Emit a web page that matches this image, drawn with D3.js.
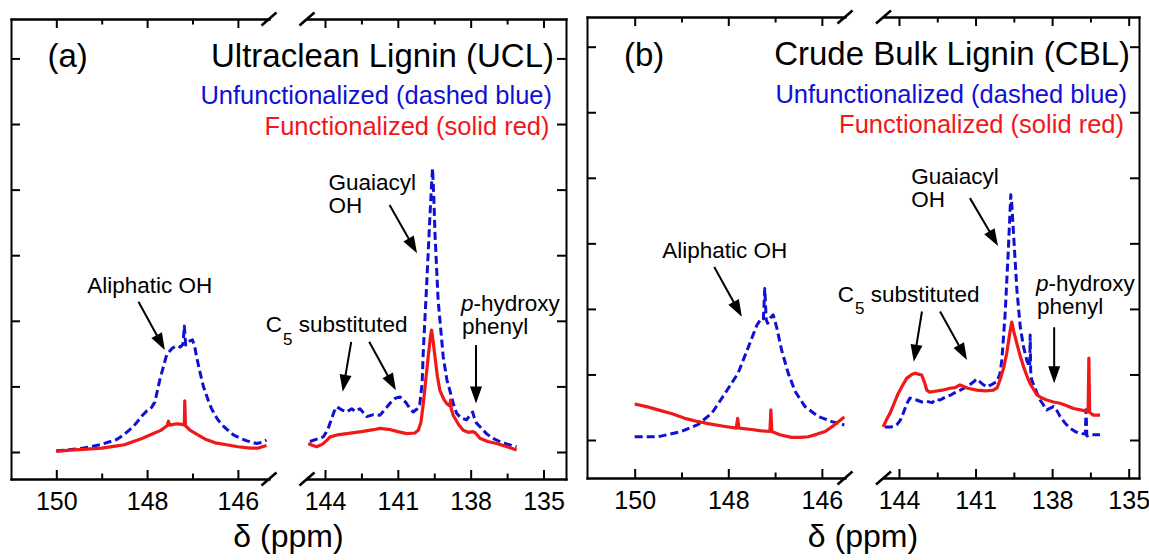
<!DOCTYPE html>
<html>
<head>
<meta charset="utf-8">
<script src="https://cdn.jsdelivr.net/npm/d3@7"></script>
<style>
  html, body { margin: 0; padding: 0; background: #fff; }
  svg { display: block; }
</style>
</head>
<body>
<svg id="chart" width="1149" height="560"></svg>
<script>
// ---- 31P NMR spectra, [chemical shift (ppm), intensity (a.u.)] ----
// Ultraclean lignin, unfunctionalized (dashed blue)
const uclUnfLeft = [[150.0,0.02],[149.77,0.03],[149.4,0.06],[149.04,0.11],[148.67,0.19],[148.5,0.27],[148.3,0.39],[148.1,0.56],[148.0,0.63],[147.9,0.68],[147.83,0.76],[147.72,1.1],[147.57,1.48],[147.45,1.58],[147.35,1.62],[147.27,1.60],[147.21,1.64],[147.18,1.92],[147.15,1.63],[147.1,1.68],[147.0,1.71],[146.95,1.60],[146.91,1.45],[146.83,1.2],[146.76,1.0],[146.65,0.78],[146.58,0.66],[146.45,0.50],[146.36,0.42],[146.2,0.32],[146.1,0.26],[145.95,0.21],[145.8,0.17],[145.59,0.13],[145.45,0.15],[145.37,0.18]];
const uclUnfRight = [[144.62,0.16],[144.3,0.2],[144.07,0.23],[143.9,0.33],[143.79,0.44],[143.62,0.62],[143.52,0.69],[143.3,0.64],[143.1,0.61],[142.9,0.66],[142.75,0.62],[142.56,0.66],[142.42,0.6],[142.28,0.54],[142.0,0.57],[141.74,0.56],[141.5,0.66],[141.33,0.74],[141.1,0.82],[140.91,0.84],[140.75,0.79],[140.64,0.74],[140.5,0.66],[140.37,0.61],[140.2,0.66],[140.1,0.72],[140.0,1.05],[139.95,1.55],[139.81,2.57],[139.68,3.58],[139.6,4.15],[139.57,4.32],[139.52,3.9],[139.47,3.33],[139.34,2.31],[139.13,1.45],[138.98,1.1],[138.86,0.94],[138.7,0.72],[138.58,0.59],[138.4,0.52],[138.17,0.49],[138.05,0.55],[137.92,0.61],[137.85,0.52],[137.76,0.44],[137.55,0.36],[137.35,0.28],[137.1,0.21],[136.8,0.16],[136.5,0.12],[136.11,0.08]];
// Ultraclean lignin, functionalized (solid red)
const uclFunLeft = [[150.0,0.01],[149.7,0.03],[149.4,0.04],[149.0,0.06],[148.7,0.09],[148.5,0.11],[148.3,0.16],[148.1,0.21],[147.9,0.27],[147.7,0.33],[147.56,0.40],[147.53,0.47],[147.5,0.41],[147.35,0.43],[147.22,0.42],[147.18,0.41],[147.17,0.78],[147.155,0.40],[147.05,0.33],[146.9,0.27],[146.7,0.19],[146.5,0.14],[146.25,0.11],[146.0,0.08],[145.73,0.06],[145.55,0.06],[145.37,0.10]];
const uclFunRight = [[144.69,0.13],[144.5,0.10],[144.34,0.08],[144.1,0.12],[143.95,0.17],[143.79,0.23],[143.5,0.26],[143.1,0.28],[142.5,0.31],[142.0,0.34],[141.74,0.36],[141.3,0.34],[141.0,0.31],[140.64,0.28],[140.3,0.29],[140.16,0.33],[140.05,0.45],[139.95,0.74],[139.85,1.1],[139.75,1.45],[139.66,1.75],[139.61,1.86],[139.55,1.7],[139.47,1.45],[139.37,1.15],[139.27,0.94],[139.1,0.80],[138.99,0.74],[138.86,0.70],[138.83,0.79],[138.8,0.66],[138.72,0.56],[138.5,0.42],[138.31,0.33],[138.1,0.30],[137.9,0.31],[137.8,0.29],[137.62,0.21],[137.3,0.16],[136.93,0.13],[136.5,0.08],[136.11,0.03]];
// Crude bulk lignin, unfunctionalized (dashed blue)
const cblUnfLeft = [[150.0,0.05],[149.5,0.05],[149.0,0.13],[148.64,0.24],[148.35,0.41],[148.07,0.71],[147.79,1.02],[147.57,1.42],[147.39,1.75],[147.29,1.86],[147.25,1.85],[147.22,2.31],[147.19,1.84],[147.16,1.78],[147.1,1.86],[147.04,1.91],[146.97,1.73],[146.86,1.37],[146.72,1.02],[146.57,0.74],[146.36,0.51],[146.08,0.36],[145.79,0.28],[145.52,0.23]];
const cblUnfRight = [[144.55,0.2],[144.3,0.2],[144.09,0.23],[143.95,0.3],[143.83,0.41],[143.7,0.55],[143.57,0.64],[143.45,0.62],[143.31,0.61],[143.1,0.58],[142.91,0.59],[142.7,0.57],[142.55,0.62],[142.39,0.61],[142.2,0.65],[142.0,0.68],[141.87,0.71],[141.6,0.76],[141.35,0.81],[141.1,0.88],[140.95,0.93],[140.75,0.86],[140.56,0.81],[140.35,0.85],[140.17,0.89],[140.05,1.0],[139.97,1.22],[139.84,1.93],[139.71,2.95],[139.62,3.74],[139.58,3.6],[139.52,3.2],[139.38,2.29],[139.25,1.73],[139.12,1.42],[138.98,1.2],[138.88,1.12],[138.86,1.6],[138.84,1.05],[138.8,0.92],[138.6,0.72],[138.47,0.61],[138.21,0.46],[137.95,0.51],[137.8,0.44],[137.69,0.36],[137.5,0.26],[137.29,0.18],[137.1,0.13],[136.9,0.1],[136.7,0.09],[136.67,0.46],[136.64,0.06],[136.5,0.08],[136.38,0.08],[136.12,0.08]];
// Crude bulk lignin, functionalized (solid red)
const cblFunLeft = [[150.0,0.55],[149.75,0.51],[149.5,0.46],[149.2,0.4],[148.93,0.33],[148.7,0.29],[148.43,0.25],[148.1,0.21],[147.83,0.18],[147.8,0.33],[147.77,0.18],[147.5,0.16],[147.29,0.14],[147.11,0.13],[147.09,0.46],[147.07,0.13],[146.9,0.08],[146.65,0.04],[146.45,0.04],[146.29,0.05],[146.1,0.09],[145.93,0.13],[145.75,0.22],[145.52,0.35]];
const cblFunRight = [[144.62,0.2],[144.5,0.3],[144.35,0.41],[144.2,0.55],[144.03,0.71],[143.85,0.84],[143.7,0.94],[143.5,1.0],[143.37,1.02],[143.2,1.0],[143.11,0.99],[143.0,0.88],[142.91,0.76],[142.8,0.73],[142.65,0.74],[142.3,0.76],[142.0,0.79],[141.8,0.8],[141.61,0.84],[141.3,0.79],[140.95,0.76],[140.6,0.75],[140.3,0.76],[140.15,0.8],[140.04,0.92],[139.9,1.1],[139.78,1.32],[139.65,1.65],[139.58,1.8],[139.5,1.65],[139.38,1.47],[139.25,1.28],[139.12,1.12],[138.99,0.98],[138.86,0.86],[138.6,0.69],[138.4,0.64],[138.21,0.61],[137.95,0.58],[137.69,0.56],[137.4,0.52],[137.16,0.48],[136.9,0.46],[136.64,0.44],[136.59,0.44],[136.56,1.25],[136.53,0.42],[136.38,0.38],[136.12,0.38]];

// ---- axis ticks ----
const leftMajorTicks = [150, 148, 146];
const leftMinorTicks = [149, 147];
const rightMajorTicks = [144, 141, 138, 135];
const rightMinorTicks = [142.5, 139.5, 136.5];
const intensityTicks = [0, 1, 2, 3, 4, 5, 6];

// ---- text ----
const panelTags = ["(a)", "(b)"];
const panelTitles = ["Ultraclean Lignin (UCL)", "Crude Bulk Lignin (CBL)"];
const legendUnf = "Unfunctionalized (dashed blue)";
const legendFun = "Functionalized (solid red)";
const xTitle = "\u03b4 (ppm)";

const FONT = "'Liberation Sans', Arial, Helvetica, sans-serif";
const BLUE = "#1010d4";
const RED = "#f01818";

const panels = [
  {
    tag: panelTags[0], title: panelTitles[0],
    frame: { x0: 11, x1: 566, y0: 19, y1: 479 },
    breakL: 269, breakR: 307,
    leftDomain: [150.998, 145.315], rightDomain: [144.741, 134.074],
    yDomain: [-0.4116, 6.601],
    tagX: 47.5, tagY: 66.5,
    titleX: 554, titleY: 66.5, unfX: 552, unfY: 104, funX: 549.5, funY: 135,
    unf: [uclUnfLeft, uclUnfRight], fun: [uclFunLeft, uclFunRight],
    labels: [
      { seg: "L", at: [149.32, 2.43], kind: "plain", lines: ["Aliphatic OH"] },
      { seg: "R", at: [143.86, 4.0], kind: "plain", lines: ["Guaiacyl", "OH"] },
      { seg: "R", at: [146.44, 1.825], kind: "c5" },
      { seg: "R", at: [138.40, 2.15], kind: "phenyl" }
    ],
    arrows: [
      { seg: "L", from: [148.19, 2.29], to: [147.61, 1.555] },
      { seg: "R", from: [141.34, 3.765], to: [140.21, 3.03] },
      { seg: "R", from: [142.92, 1.68], to: [143.27, 0.92] },
      { seg: "R", from: [142.18, 1.68], to: [141.08, 0.94] },
      { seg: "R", from: [137.78, 1.63], to: [137.78, 0.74] }
    ]
  },
  {
    tag: panelTags[1], title: panelTitles[1],
    frame: { x0: 587, x1: 1139, y0: 17, y1: 478 },
    breakL: 845, breakR: 883.5,
    leftDomain: [151.019, 145.506], rightDomain: [144.607, 134.596],
    yDomain: [-0.5797, 6.4531],
    tagX: 624, tagY: 65.5,
    titleX: 1130, titleY: 65, unfX: 1127, unfY: 102.7, funX: 1124, funY: 133.3,
    unf: [cblUnfLeft, cblUnfRight], fun: [cblFunLeft, cblFunRight],
    labels: [
      { seg: "L", at: [149.41, 2.78], kind: "plain", lines: ["Aliphatic OH"] },
      { seg: "R", at: [143.52, 3.9], kind: "plain", lines: ["Guaiacyl", "OH"] },
      { seg: "R", at: [146.40, 2.11], kind: "c5" },
      { seg: "R", at: [138.63, 2.27], kind: "phenyl" }
    ],
    arrows: [
      { seg: "L", from: [148.30, 2.64], to: [147.71, 1.88] },
      { seg: "R", from: [141.22, 3.69], to: [140.12, 2.96] },
      { seg: "R", from: [143.10, 1.96], to: [143.42, 1.195] },
      { seg: "R", from: [142.39, 1.96], to: [141.335, 1.22] },
      { seg: "R", from: [137.92, 1.72], to: [137.92, 0.865] }
    ]
  }
];

const svg = d3.select("#chart").style("font-family", FONT);

function styleAxis(sel, fontSize) {
  sel.attr("font-family", FONT).attr("font-size", fontSize);
  sel.selectAll("line").attr("stroke-width", 2);
  sel.selectAll("path.domain").attr("stroke-width", 2).attr("stroke-linecap", "square");
}

function drawArrow(g, x1, y1, x2, y2) {
  const dx = x2 - x1, dy = y2 - y1, len = Math.hypot(dx, dy);
  const ux = dx / len, uy = dy / len, hl = 17, hw = 6;
  const bx = x2 - ux * hl, by = y2 - uy * hl;
  g.append("line")
    .attr("x1", x1).attr("y1", y1).attr("x2", bx + ux * 2).attr("y2", by + uy * 2)
    .attr("stroke", "#000").attr("stroke-width", 2);
  g.append("path")
    .attr("d", `M${x2},${y2}L${bx - uy * hw},${by + ux * hw}L${bx + uy * hw},${by - ux * hw}Z`)
    .attr("fill", "#000");
}

panels.forEach(p => {
  const g = svg.append("g");
  const f = p.frame;
  const y = d3.scaleLinear().domain(p.yDomain).range([f.y1, f.y0]);
  const xL = d3.scaleLinear().domain(p.leftDomain).range([f.x0, p.breakL]);
  const xR = d3.scaleLinear().domain(p.rightDomain).range([p.breakR, f.x1]);
  const seg = { L: xL, R: xR };

  // x axes, bottom and top, one per broken segment
  [[xL, leftMajorTicks, leftMinorTicks], [xR, rightMajorTicks, rightMinorTicks]].forEach(([sc, maj, mnr]) => {
    g.append("g").attr("transform", `translate(0,${f.y1})`)
      .call(d3.axisBottom(sc).tickValues(maj).tickSizeInner(-9).tickSizeOuter(0)
        .tickPadding(13).tickFormat(d3.format("d")))
      .call(s => styleAxis(s, 25));
    g.append("g").attr("transform", `translate(0,${f.y1})`)
      .call(d3.axisBottom(sc).tickValues(mnr).tickSizeInner(-5.5).tickSizeOuter(0).tickFormat(""))
      .call(s => styleAxis(s, 25));
    g.append("g").attr("transform", `translate(0,${f.y0})`)
      .call(d3.axisTop(sc).tickValues(maj).tickSizeInner(-9).tickSizeOuter(0).tickFormat(""))
      .call(s => styleAxis(s, 25));
    g.append("g").attr("transform", `translate(0,${f.y0})`)
      .call(d3.axisTop(sc).tickValues(mnr).tickSizeInner(-5.5).tickSizeOuter(0).tickFormat(""))
      .call(s => styleAxis(s, 25));
  });

  // y axes (unlabelled), left and right frame edges
  g.append("g").attr("transform", `translate(${f.x0},0)`)
    .call(d3.axisLeft(y).tickValues(intensityTicks).tickSizeInner(-9).tickSizeOuter(0).tickFormat(""))
    .call(s => styleAxis(s, 25));
  g.append("g").attr("transform", `translate(${f.x1},0)`)
    .call(d3.axisRight(y).tickValues(intensityTicks).tickSizeInner(-9).tickSizeOuter(0).tickFormat(""))
    .call(s => styleAxis(s, 25));

  // axis-break slashes
  [p.breakL, p.breakR].forEach(cx => {
    [f.y0, f.y1].forEach(cy => {
      g.append("line")
        .attr("x1", cx - 7.5).attr("y1", cy + 6.5).attr("x2", cx + 7.5).attr("y2", cy - 6.5)
        .attr("stroke", "#000").attr("stroke-width", 2.6);
    });
  });

  // spectra
  const lineL = d3.line().x(d => xL(d[0])).y(d => y(d[1]));
  const lineR = d3.line().x(d => xR(d[0])).y(d => y(d[1]));
  [[p.unf[0], lineL], [p.unf[1], lineR]].forEach(([data, ln]) => {
    g.append("path").datum(data).attr("d", ln)
      .attr("fill", "none").attr("stroke", BLUE).attr("stroke-width", 3)
      .attr("stroke-dasharray", "8,4").attr("stroke-linejoin", "round");
  });
  [[p.fun[0], lineL], [p.fun[1], lineR]].forEach(([data, ln]) => {
    g.append("path").datum(data).attr("d", ln)
      .attr("fill", "none").attr("stroke", RED).attr("stroke-width", 3.2)
      .attr("stroke-linejoin", "round");
  });

  // panel tag, title, legend text
  g.append("text").attr("x", p.tagX).attr("y", p.tagY).attr("font-size", 33).attr("fill", "#000").text(p.tag);
  g.append("text").attr("x", p.titleX).attr("y", p.titleY).attr("font-size", 33)
    .attr("text-anchor", "end").attr("fill", "#000").text(p.title);
  g.append("text").attr("x", p.unfX).attr("y", p.unfY).attr("font-size", 25.5)
    .attr("text-anchor", "end").attr("fill", BLUE).text(legendUnf);
  g.append("text").attr("x", p.funX).attr("y", p.funY).attr("font-size", 25.5)
    .attr("text-anchor", "end").attr("fill", RED).text(legendFun);

  // x-axis title
  g.append("text").attr("x", (f.x0 + f.x1) / 2).attr("y", 546.5).attr("font-size", 32)
    .attr("text-anchor", "middle").attr("fill", "#000").text(xTitle);

  // peak annotations
  p.labels.forEach(l => {
    const lx = seg[l.seg](l.at[0]), ly = y(l.at[1]);
    const t = g.append("text").attr("x", lx).attr("y", ly).attr("font-size", 22.5)
      .attr("fill", "#000").style("white-space", "pre");
    if (l.kind === "plain") {
      l.lines.forEach((s, i) => {
        t.append("tspan").attr("x", lx).attr("dy", i === 0 ? 0 : 23).text(s);
      });
    } else if (l.kind === "c5") {
      t.append("tspan").text("C");
      t.append("tspan").attr("font-size", 17).attr("dx", 1).attr("dy", 12.5).text("5");
      t.append("tspan").attr("dy", -12.5).text(" substituted");
    } else if (l.kind === "phenyl") {
      t.append("tspan").attr("font-style", "italic").text("p");
      t.append("tspan").text("-hydroxy");
      t.append("tspan").attr("x", lx + 1).attr("dy", 23).text("phenyl");
    }
  });
  p.arrows.forEach(a => {
    const sc = seg[a.seg];
    drawArrow(g, sc(a.from[0]), y(a.from[1]), sc(a.to[0]), y(a.to[1]));
  });
});
</script>
</body>
</html>
